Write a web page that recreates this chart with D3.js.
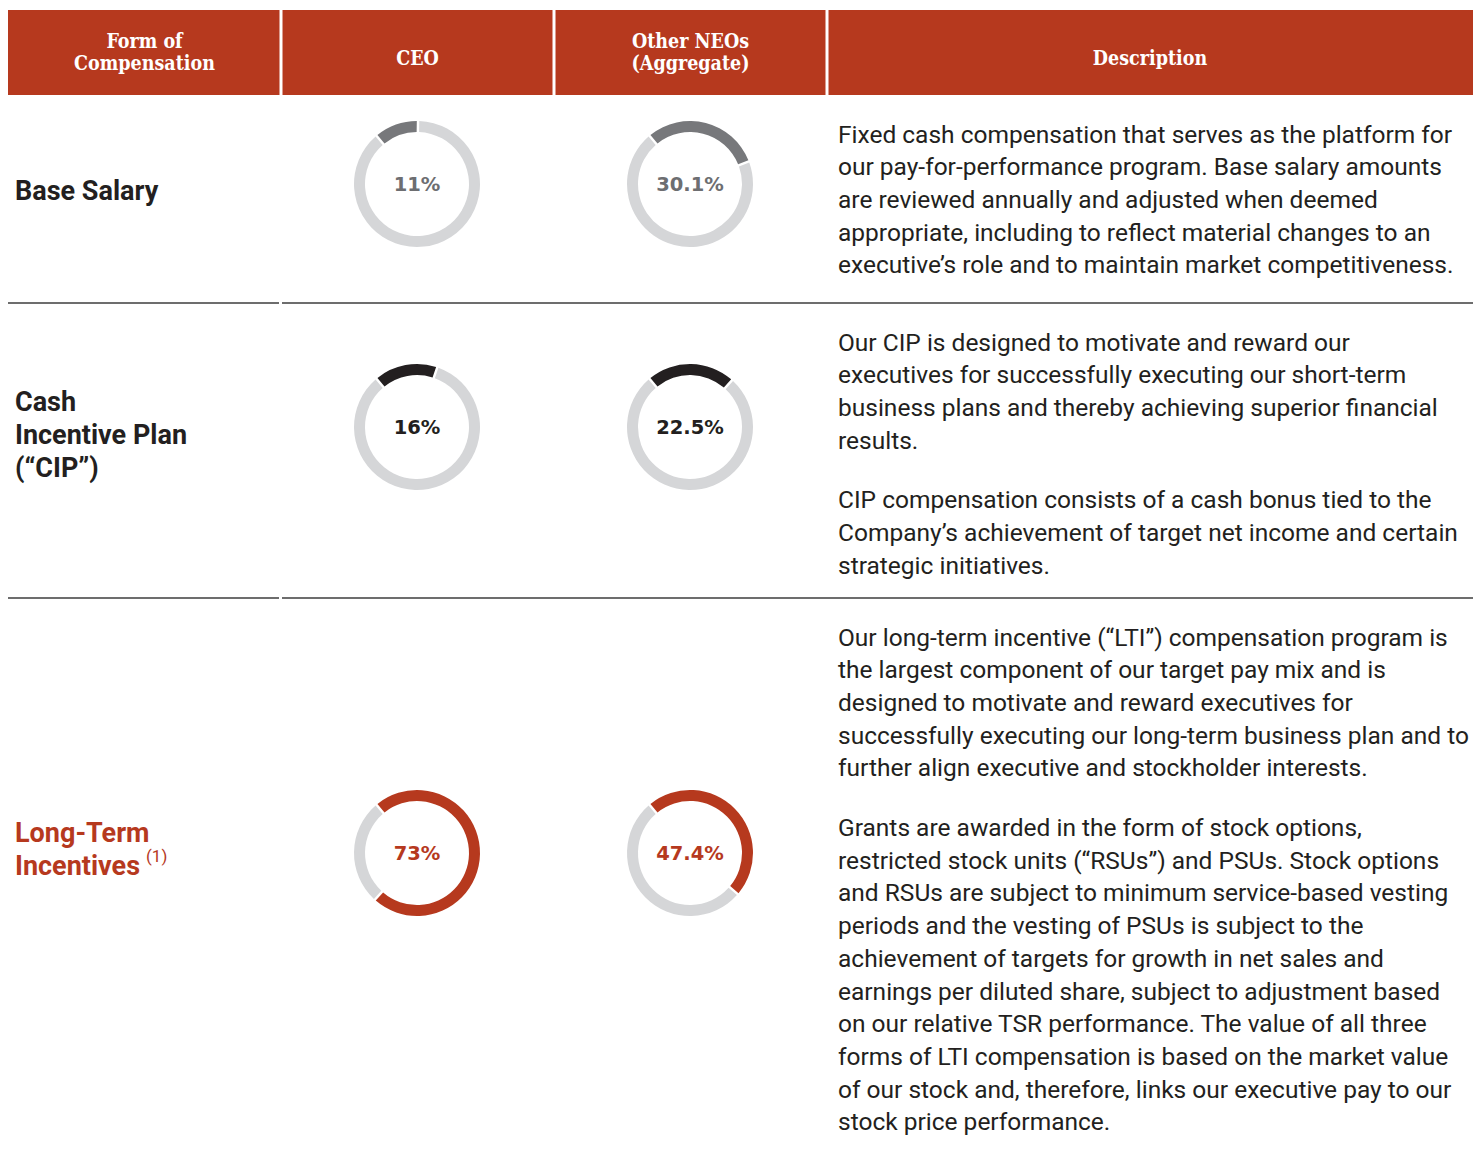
<!DOCTYPE html>
<html>
<head>
<meta charset="utf-8">
<script src="https://cdn.jsdelivr.net/npm/d3@7"></script>
<style>
  body { margin: 0; background: #fff; }
  svg { display: block; }
</style>
</head>
<body>
<svg id="chart"></svg>
<script>
// data
var categories = ["Base Salary", "Cash Incentive Plan (\u201cCIP\u201d)", "Long-Term Incentives"];
var categoryLines = [["Base Salary"], ["Cash", "Incentive Plan", "(\u201cCIP\u201d)"], ["Long-Term", "Incentives"]];
var ceoValues = [11, 16, 73];
var neoValues = [30.1, 22.5, 47.4];
var ceoLabels = ["11%", "16%", "73%"];
var neoLabels = ["30.1%", "22.5%", "47.4%"];
var headers = [["Form of", "Compensation"], ["CEO"], ["Other NEOs", "(Aggregate)"], ["Description"]];
var descriptions = [
  [["Fixed cash compensation that serves as the platform for",
    "our pay-for-performance program. Base salary amounts",
    "are reviewed annually and adjusted when deemed",
    "appropriate, including to reflect material changes to an",
    "executive\u2019s role and to maintain market competitiveness."]],
  [["Our CIP is designed to motivate and reward our",
    "executives for successfully executing our short-term",
    "business plans and thereby achieving superior financial",
    "results."],
   ["CIP compensation consists of a cash bonus tied to the",
    "Company\u2019s achievement of target net income and certain",
    "strategic initiatives."]],
  [["Our long-term incentive (\u201cLTI\u201d) compensation program is",
    "the largest component of our target pay mix and is",
    "designed to motivate and reward executives for",
    "successfully executing our long-term business plan and to",
    "further align executive and stockholder interests."],
   ["Grants are awarded in the form of stock options,",
    "restricted stock units (\u201cRSUs\u201d) and PSUs. Stock options",
    "and RSUs are subject to minimum service-based vesting",
    "periods and the vesting of PSUs is subject to the",
    "achievement of targets for growth in net sales and",
    "earnings per diluted share, subject to adjustment based",
    "on our relative TSR performance. The value of all three",
    "forms of LTI compensation is based on the market value",
    "of our stock and, therefore, links our executive pay to our",
    "stock price performance."]]
];

var svgWidth = 1473;
var svgHeight = 1151;
var red = "#b6391e";
var segColors = ["#77787b", "#231f20", red];
var labelColors = ["#6d6e71", "#231f20", red];
var track = "#d5d6d8";

var svg = d3.select("#chart")
    .attr("width", svgWidth)
    .attr("height", svgHeight);

// header
var colEdges = [8, 281, 554, 827, 1473];
svg.append("rect")
    .attr("x", 8).attr("y", 10)
    .attr("width", 1465).attr("height", 85)
    .attr("fill", red);

colEdges.slice(1, 4).forEach(function(x) {
    svg.append("rect").attr("x", x - 1.5).attr("y", 10)
        .attr("width", 3).attr("height", 85).attr("fill", "#fff");
});

headers.forEach(function(lines, i) {
    var cx = (colEdges[i] + colEdges[i + 1]) / 2;
    var t = svg.append("text")
        .attr("text-anchor", "middle")
        .attr("font-family", "'DejaVu Serif Condensed', 'DejaVu Serif', serif")
        .attr("font-weight", "bold")
        .attr("font-size", "19.5px")
        .attr("fill", "#fff");
    var y0 = lines.length == 1 ? 58 : 41;
    lines.forEach(function(l, j) {
        t.append("tspan").attr("x", cx).attr("y", y0 + j * 22)
            .attr("dominant-baseline", "central").text(l);
    });
});

// rows
var rowCenters = [184, 427, 853];
var rowLines = [303, 598];
var descTop = [134, 342, 637];
var lineH = 32.7;
var paraGap = 27;

rowLines.forEach(function(y) {
    [[8, 279], [282, 1473]].forEach(function(seg) {
        svg.append("line")
            .attr("x1", seg[0]).attr("x2", seg[1])
            .attr("y1", y).attr("y2", y)
            .attr("stroke", "#3d3d3d").attr("stroke-width", 1.6);
    });
});

// category labels
categoryLines.forEach(function(lines, i) {
    var y0 = rowCenters[i] + 7 - (lines.length - 1) * lineH / 2;
    if (i == 1) y0 += 1;
    if (i == 2) y0 = rowCenters[i] - 20;
    var t = svg.append("text")
        .attr("font-family", "Roboto, sans-serif")
        .attr("font-weight", "bold")
        .attr("font-size", "27px")
        .attr("fill", i == 2 ? red : "#231f20");
    lines.forEach(function(l, j) {
        t.append("tspan").attr("x", 15).attr("y", y0 + j * lineH)
            .attr("dominant-baseline", "central").text(l);
    });
    if (i == 2) {
        t.append("tspan").attr("font-weight", "normal").attr("font-size", "17px")
            .attr("dx", 6).attr("dy", -4).text("(1)");
    }
});

// donuts
var pie = d3.pie()
    .sort(null)
    .startAngle(-40 * Math.PI / 180)
    .endAngle(320 * Math.PI / 180)
    .padAngle(0.03);

var arc = d3.arc().innerRadius(52).outerRadius(63);

var cols = [
    { x: 417, values: ceoValues, labels: ceoLabels },
    { x: 690, values: neoValues, labels: neoLabels }
];

cols.forEach(function(col) {
    col.values.forEach(function(v, i) {
        var g = svg.append("g")
            .attr("transform", "translate(" + col.x + "," + rowCenters[i] + ")");
        g.selectAll("path")
            .data(pie([v, 100 - v]))
            .enter()
            .append("path")
            .attr("d", arc)
            .attr("fill", function(d, k) { return k == 0 ? segColors[i] : track; });
        g.append("text")
            .attr("text-anchor", "middle")
            .attr("dominant-baseline", "central")
            .attr("font-family", "'DejaVu Sans', sans-serif")
            .attr("font-weight", "bold")
            .attr("font-size", "19.5px")
            .attr("fill", labelColors[i])
            .text(col.labels[i]);
    });
});

// descriptions
descriptions.forEach(function(paras, i) {
    var y = descTop[i];
    var t = svg.append("text")
        .attr("font-family", "Roboto, sans-serif")
        .attr("font-size", "24.5px")
        .attr("fill", "#231f20");
    paras.forEach(function(lines, p) {
        if (p > 0) y += paraGap;
        lines.forEach(function(l) {
            t.append("tspan").attr("x", 838).attr("y", y)
                .attr("dominant-baseline", "central").text(l);
            y += lineH;
        });
    });
});
</script>
</body>
</html>
